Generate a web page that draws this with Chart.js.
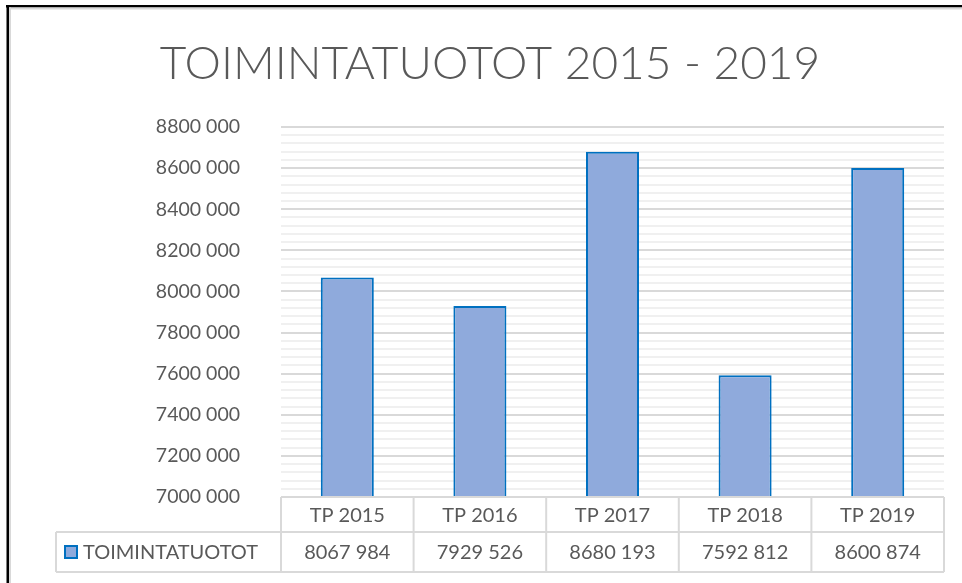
<!DOCTYPE html>
<html>
<head>
<meta charset="utf-8">
<script src="https://cdn.jsdelivr.net/npm/chart.js@4.4.1/dist/chart.umd.min.js"></script>
<style>
  html, body { margin: 0; padding: 0; background: #fff; }
  #wrap { width: 962px; height: 583px; }
</style>
</head>
<body>
<div id="wrap"><canvas id="myChart"></canvas></div>
<script>
// data
const categories = ['TP 2015', 'TP 2016', 'TP 2017', 'TP 2018', 'TP 2019'];
const seriesName = 'TOIMINTATUOTOT';
const values = [8067984, 7929526, 8680193, 7592812, 8600874];
const yMin = 7000000;
const yMax = 8800000;
const yMajor = 200000;
const yMinor = 40000;
const titleText = 'TOIMINTATUOTOT 2015 - 2019';

const textColor = '#595959';
const lineColor = '#d9d9d9';
const fontFamily = 'Lato, "Open Sans", sans-serif';

// "8800 000" style
function fmt(v) {
  const th = Math.floor(v / 1000);
  const rest = String(v % 1000).padStart(3, '0');
  return th + ' ' + rest;
}

// title, Excel-style data table under the plot, frame lines
const dataTable = {
  id: 'dataTable',
  afterDraw(chart) {
    const ctx = chart.ctx;
    const area = chart.chartArea;
    const x = chart.scales.x;
    const top = area.bottom;
    const row1 = 35, row2 = 40;
    const legendLeft = 56;
    const n = categories.length;
    const cw = (area.right - area.left) / n;

    ctx.save();
    // title
    ctx.fillStyle = textColor;
    ctx.font = '300 46px ' + fontFamily;
    ctx.textAlign = 'center';
    ctx.textBaseline = 'middle';
    ctx.fillText(titleText, 490, 64);

    ctx.strokeStyle = lineColor;
    ctx.lineWidth = 2;
    ctx.beginPath();
    // horizontal lines
    ctx.moveTo(area.left, top); ctx.lineTo(area.right, top);
    ctx.moveTo(legendLeft, top + row1); ctx.lineTo(area.right, top + row1);
    ctx.moveTo(legendLeft, top + row1 + row2); ctx.lineTo(area.right, top + row1 + row2);
    // vertical lines
    ctx.moveTo(legendLeft, top + row1); ctx.lineTo(legendLeft, top + row1 + row2);
    for (let i = 0; i <= n; i++) {
      const xb = area.left + i * cw;
      ctx.moveTo(xb, top); ctx.lineTo(xb, top + row1 + row2);
    }
    ctx.stroke();

    ctx.fillStyle = textColor;
    ctx.font = '20px ' + fontFamily;
    categories.forEach((c, i) => {
      const cx = x.getPixelForValue(i);
      ctx.fillText(c, cx, top + row1 / 2 + 1);
      ctx.fillText(fmt(values[i]), cx, top + row1 + row2 / 2 + 1);
    });

    // legend key in first cell
    const ky = top + row1 + row2 / 2;
    ctx.fillStyle = '#8faadc';
    ctx.fillRect(65, ky - 6, 12, 12);
    ctx.strokeStyle = '#0070c0';
    ctx.lineWidth = 2;
    ctx.strokeRect(65, ky - 6, 12, 12);
    ctx.fillStyle = textColor;
    ctx.textAlign = 'left';
    ctx.fillText(seriesName, 83, ky + 1);

    // outer frame (top and left)
    ctx.fillStyle = '#000';
    ctx.fillRect(6, 5, 956, 2.5);
    ctx.fillRect(6.5, 5, 2.5, 578);
    ctx.fillStyle = '#d9d9d9';
    ctx.fillRect(9, 7.5, 953, 2);
    ctx.fillRect(9, 7.5, 2, 576);
    ctx.restore();
  }
};

const chart = new Chart(document.getElementById('myChart').getContext('2d'), {
  type: 'bar',
  data: {
    labels: categories,
    datasets: [{
      label: seriesName,
      data: values,
      backgroundColor: '#8faadc',
      borderColor: '#0070c0',
      borderWidth: 2,
      barPercentage: 0.4,
      categoryPercentage: 1
    }]
  },
  options: {
    responsive: true,
    maintainAspectRatio: false,
    animation: false,
    layout: { padding: { left: 0, right: 18, top: 127, bottom: 86 } },
    plugins: {
      legend: { display: false },
      tooltip: { enabled: false },
      title: { display: false }
    },
    scales: {
      x: { display: false, offset: true },
      y: {
        min: yMin,
        max: yMax,
        afterFit(scale) { scale.width = 281; },
        border: { display: false },
        grid: {
          drawTicks: false,
          color: c => (c.tick && c.tick.value % yMajor === 0) ? lineColor : '#f0f0f0',
          lineWidth: 2
        },
        ticks: {
          stepSize: yMinor,
          autoSkip: false,
          padding: 41,
          color: textColor,
          font: { family: fontFamily, size: 19.5 },
          callback: v => v % yMajor === 0 ? fmt(v) : ''
        }
      }
    }
  },
  plugins: [dataTable]
});
</script>
</body>
</html>
